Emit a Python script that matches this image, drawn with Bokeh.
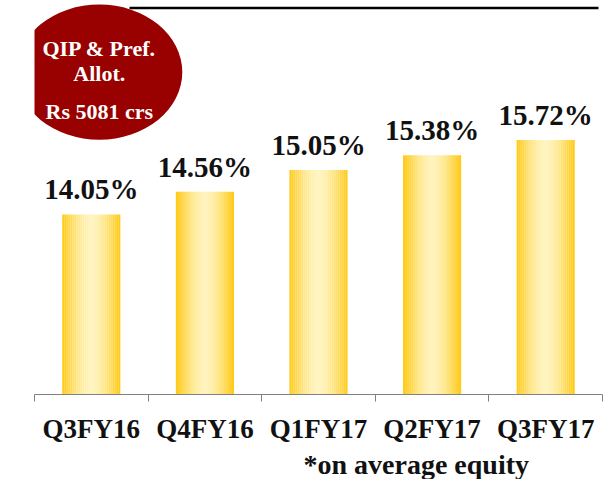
from bokeh.plotting import figure
from bokeh.models import Range1d, FixedTicker, LinearAxis, ColumnDataSource, Label, LabelSet, Title
from bokeh.embed import file_html
from bokeh.resources import INLINE

# ---- data ----
categories = ["Q3FY16", "Q4FY16", "Q1FY17", "Q2FY17", "Q3FY17"]
roe = [14.05, 14.56, 15.05, 15.38, 15.72]
bubble_lines = ["QIP & Pref.", "Allot.", "Rs 5081 crs"]
footnote = "*on average equity"

FONT = "Liberation Serif"
Y0 = 10.0
PX_X = 113.6   # pixels per category
PX_Y = 44.7    # pixels per percentage point
LEFT = 34
FRAME_H = 396
Y1 = Y0 + FRAME_H / PX_Y

p = figure(width=610, height=479, output_backend="svg", toolbar_location=None,
           x_range=Range1d(0, len(categories)), y_range=Range1d(Y0, Y1),
           x_axis_location=None, y_axis_location=None,
           min_border_left=LEFT, min_border_right=8, min_border_top=0, min_border_bottom=83)
p.outline_line_color = None
p.grid.visible = False
p.background_fill_color = "white"
p.border_fill_color = "white"

# ---- gradient bars (vertical strips) ----
n_strips = 29
bar_w = 58 / PX_X
edge = (255, 200, 14)
center = (255, 243, 188)
xs, tops, cols = [], [], []
for i, v in enumerate(roe):
    for k in range(n_strips):
        pos = (k + 0.5) / n_strips
        t = abs(pos - 0.5) * 2
        m = t ** 1.6
        c = tuple(int(round(center[j] + (edge[j] - center[j]) * m)) for j in range(3))
        xs.append(i + 0.5 - bar_w / 2 + (k + 0.5) * bar_w / n_strips)
        tops.append(v)
        cols.append("#%02x%02x%02x" % c)
strip_src = ColumnDataSource(dict(x=xs, top=tops, color=cols))
p.vbar(x="x", top="top", bottom=Y0, width=bar_w / n_strips * 1.05, source=strip_src,
       fill_color="color", line_color=None)

# ---- value labels ----
lab_src = ColumnDataSource(dict(x=[i + 0.5 for i in range(len(categories))], y=roe,
                                text=["%.2f%%" % v for v in roe]))
p.add_layout(LabelSet(x="x", y="y", text="text", source=lab_src, y_offset=15,
                      text_align="center", text_baseline="alphabetic",
                      text_font=FONT, text_font_style="bold", text_font_size="29px",
                      text_color="#111111"))

# ---- x axis ----
ax = LinearAxis(ticker=FixedTicker(ticks=[i + 0.5 for i in range(len(categories))],
                                   minor_ticks=list(range(len(categories) + 1))))
ax.major_label_overrides = {i + 0.5: c for i, c in enumerate(categories)}
ax.major_tick_out = 0
ax.major_tick_in = 0
ax.minor_tick_out = 7
ax.minor_tick_in = 0
ax.minor_tick_line_color = "#808080"
ax.axis_line_color = "#808080"
ax.axis_line_width = 1
ax.major_label_standoff = 12
ax.major_label_text_font = FONT
ax.major_label_text_font_style = "bold"
ax.major_label_text_font_size = "27px"
ax.major_label_text_color = "#111111"
p.add_layout(ax, "below")

# ---- footnote ----
p.add_layout(Title(text=footnote, align="left", offset=303 - LEFT, standoff=0,
                   text_font=FONT, text_font_style="bold", text_font_size="28px",
                   text_color="#111111"), "below")

# ---- top rule ----
p.segment(x0=[(129 - LEFT) / PX_X], x1=[(598 - LEFT) / PX_X],
          y0=[Y1 - 7.5 / PX_Y], y1=[Y1 - 7.5 / PX_Y], line_color="black", line_width=2.5)

# ---- red bubble ----
cx = (98.8 - LEFT) / PX_X
cy = Y1 - 72 / PX_Y
p.ellipse(x=[cx], y=[cy], width=[166 / PX_X], height=[136 / PX_Y],
          fill_color="#990000", line_color=None)
for txt, fy in zip(bubble_lines, [48.3, 73.3, 111.7]):
    p.add_layout(Label(x=cx, y=Y1 - fy / PX_Y, text=txt, text_align="center",
                       text_baseline="alphabetic", text_font=FONT, text_font_style="bold",
                       text_font_size="22px", text_color="white"))

open("out.html", "w").write(file_html(p, INLINE))
